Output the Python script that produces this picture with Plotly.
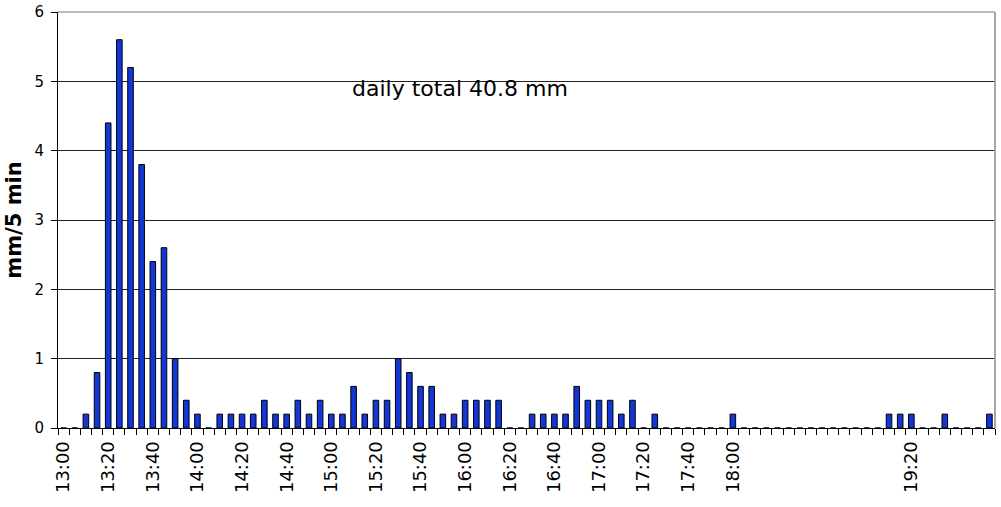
import plotly.graph_objects as go

# 5-minute categories from 13:00 to 19:55
times = [f"{13 + m // 60}:{m % 60:02d}" for m in range(0, 420, 5)]

# rainfall per 5 min (mm)
rain = [
    0, 0, 0.2, 0.8, 4.4, 5.6, 5.2, 3.8, 2.4, 2.6, 1.0, 0.4,      # 13:00-13:55
    0.2, 0, 0.2, 0.2, 0.2, 0.2, 0.4, 0.2, 0.2, 0.4, 0.2, 0.4,    # 14:00-14:55
    0.2, 0.2, 0.6, 0.2, 0.4, 0.4, 1.0, 0.8, 0.6, 0.6, 0.2, 0.2,  # 15:00-15:55
    0.4, 0.4, 0.4, 0.4, 0, 0, 0.2, 0.2, 0.2, 0.2, 0.6, 0.4,      # 16:00-16:55
    0.4, 0.4, 0.2, 0.4, 0, 0.2, 0, 0, 0, 0, 0, 0,                # 17:00-17:55
    0.2, 0, 0, 0, 0, 0, 0, 0, 0, 0, 0, 0,                        # 18:00-18:55
    0, 0, 0.2, 0.2, 0.2, 0, 0, 0.2, 0, 0, 0, 0.2,                # 19:00-19:55
]

# category labels shown on the axis
shown_labels = ["13:00", "13:20", "13:40", "14:00", "14:20", "14:40", "15:00",
                "15:20", "15:40", "16:00", "16:20", "16:40", "17:00", "17:20",
                "17:40", "18:00", "19:20"]

y_ticks = [0, 1, 2, 3, 4, 5, 6]
note = "daily total 40.8 mm"
y_title = "mm/5 min"

tick_text = [t if t in shown_labels else "" for t in times]

fig = go.Figure()
fig.add_bar(
    x=times, y=rain, width=0.5,
    marker=dict(color="#1236d8", line=dict(color="black", width=1)),
)

FONT = "DejaVu Sans"
fig.update_layout(
    width=1001, height=507,
    margin=dict(l=58, r=6, t=12, b=79),
    plot_bgcolor="white", paper_bgcolor="white",
    showlegend=False,
    font=dict(family=FONT, color="black"),
    xaxis=dict(
        type="category",
        categoryorder="array", categoryarray=times,
        tickmode="array", tickvals=times, ticktext=tick_text,
        tickson="boundaries",
        ticks="outside", ticklen=6, tickcolor="black", tickwidth=1,
        tickangle=-90,
        ticklabelstandoff=5,
        tickfont=dict(family=FONT, size=18, color="black"),
        showline=True, linecolor="black", linewidth=1,
        showgrid=False,
        automargin=False,
        range=[-0.5, len(times) - 0.5],
    ),
    yaxis=dict(
        range=[0, 6],
        tickmode="array", tickvals=y_ticks,
        ticks="outside", ticklen=6, tickcolor="black",
        ticklabelstandoff=4,
        ticklabeloverflow="allow",
        tickfont=dict(family=FONT, size=15, color="black"),
        showline=True, linecolor="black", linewidth=1,
        showgrid=True, gridcolor="#222222", gridwidth=1,
        zeroline=False,
        automargin=False,
        title=dict(text=y_title, font=dict(family=FONT, size=21, color="black", weight="bold"),
                   standoff=7),
    ),
    annotations=[dict(
        text=note, xref="paper", yref="paper", x=0.429, y=0.817,
        xanchor="center", yanchor="middle", showarrow=False,
        font=dict(family=FONT, size=22, color="black"),
    )],
    shapes=[
        dict(type="line", xref="paper", yref="paper", x0=0, x1=1, y0=1, y1=1,
             line=dict(color="#a6a6a6", width=1.5)),
        dict(type="line", xref="paper", yref="paper", x0=1, x1=1, y0=0, y1=1,
             line=dict(color="#a6a6a6", width=2)),
    ],
)

fig.write_html("out.html", config={"displayModeBar": False},
               post_script="document.body.style.margin='0';")
